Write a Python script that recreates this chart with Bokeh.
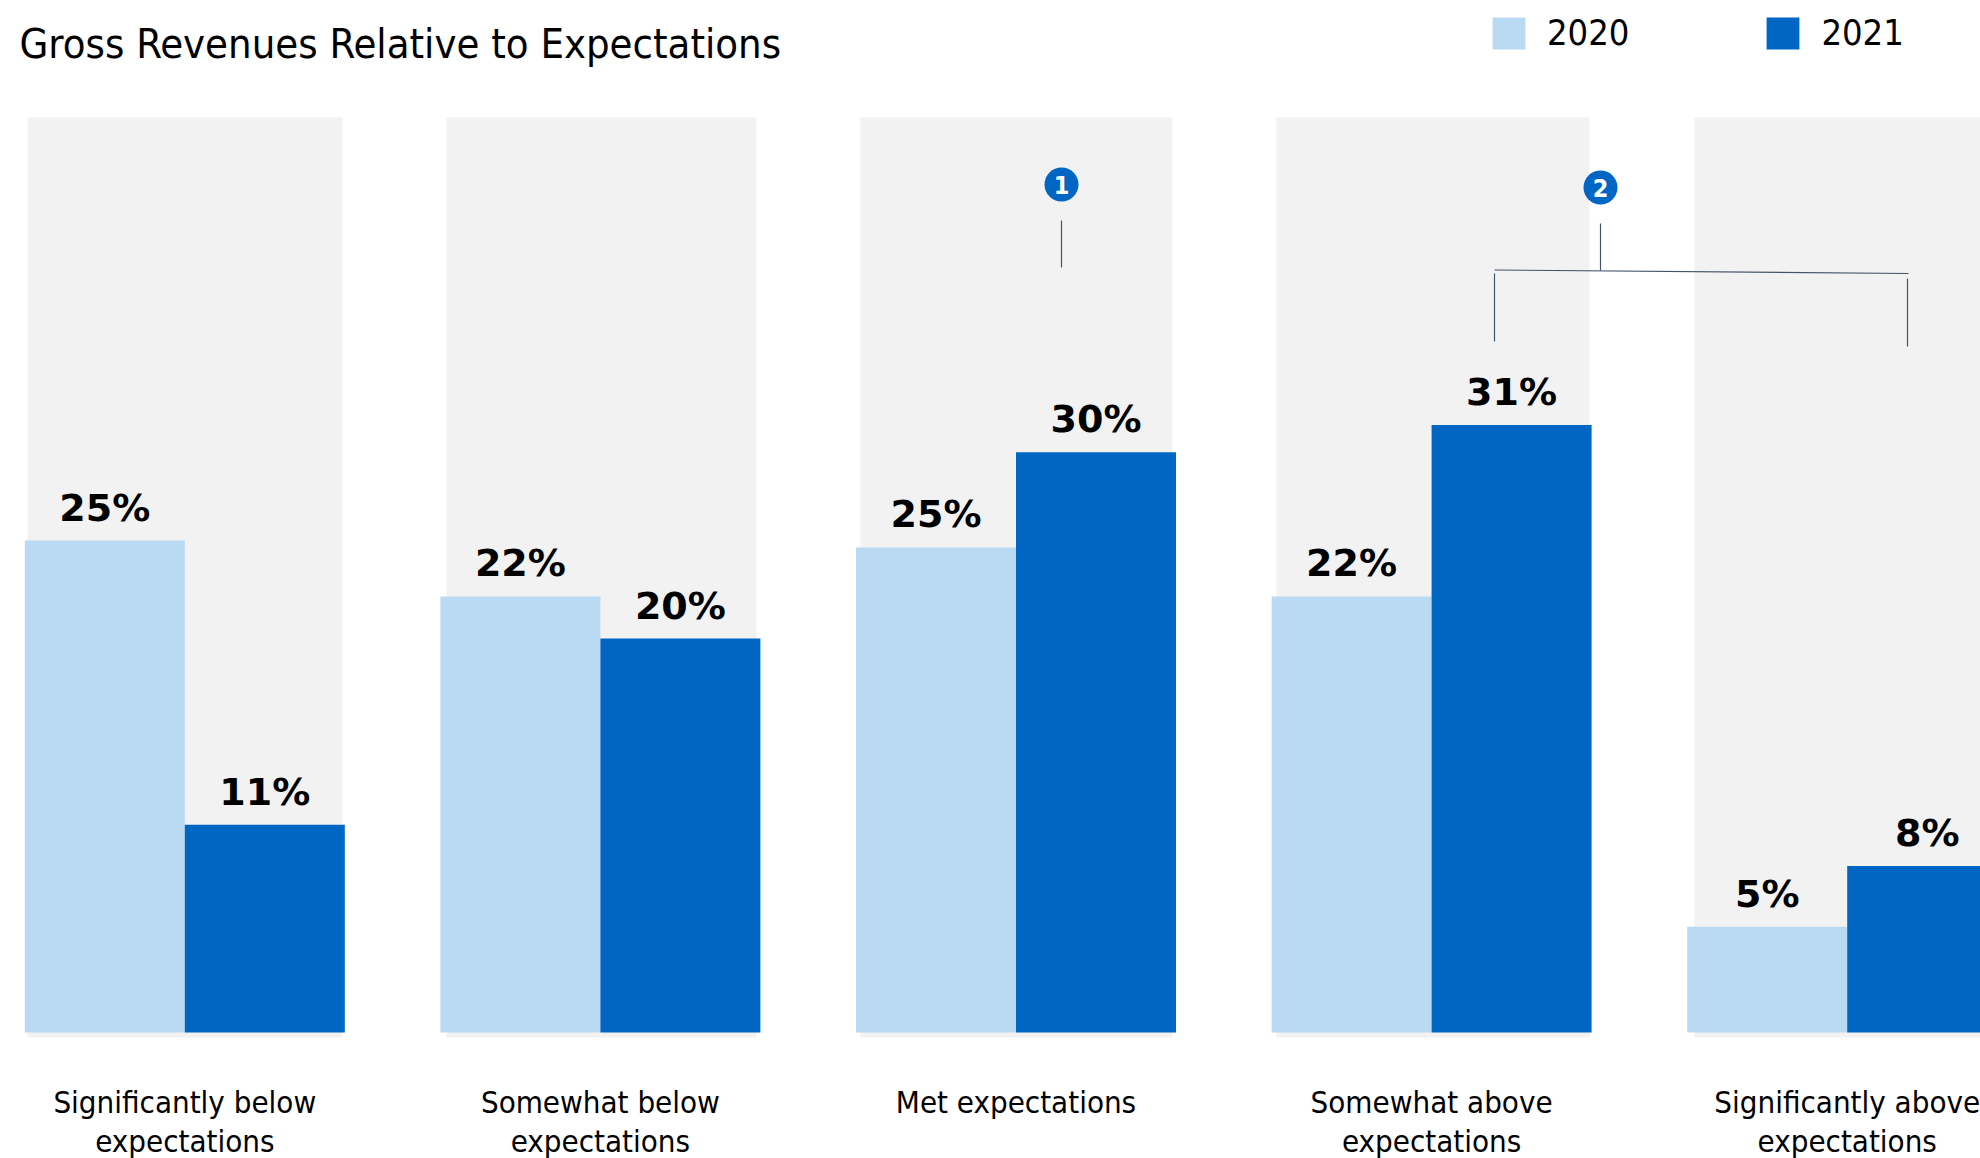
from bokeh.plotting import figure
from bokeh.embed import file_html
from bokeh.resources import INLINE
from bokeh.models import Range1d, Legend, LegendItem
from bokeh.core.properties import value
import numpy as np

category_line1 = ["Significantly below", "Somewhat below", "Met expectations", "Somewhat above", "Significantly above"]
category_line2 = ["expectations", "expectations", "", "expectations", "expectations"]
series_2020 = [25.1, 22.25, 24.75, 22.25, 5.4]
series_2021 = [10.6, 20.1, 29.6, 31.0, 8.5]
labels_2020 = ["25%", "22%", "25%", "22%", "5%"]
labels_2021 = ["11%", "20%", "30%", "31%", "8%"]

LIGHT, DARK, PANEL, RULE = "#BAD9F3", "#0066C4", "#F2F2F2", "#44546A"
COND = "DejaVu Sans Condensed"

# layout: reference-pixel geometry
W, H = 1980, 1158
PX_PER_GROUP, PX_PER_PCT = 415.6, 19.6
GROUP0_PX, BASE_PX = 184.3, 1032.0
PANEL_L = [27, 446, 860, 1276, 1694]
PANEL_R = [342, 756, 1172, 1589, 2007]


def X(px):
    return (np.asarray(px, dtype=float) - GROUP0_PX) / PX_PER_GROUP


def Y(py):
    return (BASE_PX - np.asarray(py, dtype=float)) / PX_PER_PCT


p = figure(width=W, height=H, output_backend="svg", toolbar_location=None,
           x_range=Range1d(float(X(0)), float(X(W))), y_range=Range1d(float(Y(H)), float(Y(0))),
           min_border=0, outline_line_color=None, x_axis_location=None, y_axis_location=None)
p.grid.visible = False

xs = np.arange(5, dtype=float)
p.quad(left=X(PANEL_L), right=X(PANEL_R), bottom=float(Y(1037)), top=float(Y(117)),
       fill_color=PANEL, line_color=None)

bw = 160 / PX_PER_GROUP
r20 = p.vbar(x=xs - bw / 2, top=series_2020, bottom=0, width=bw, fill_color=LIGHT, line_color=None)
r21 = p.vbar(x=xs + bw / 2, top=series_2021, bottom=0, width=bw, fill_color=DARK, line_color=None)

for off, vals, labs in ((-bw / 2, series_2020, labels_2020), (bw / 2, series_2021, labels_2021)):
    p.text(x=xs + off, y=vals, text=labs, text_align="center", text_baseline="alphabetic",
           y_offset=-33, text_font=value("DejaVu Sans"), text_font_style="bold",
           text_font_size="38px", text_color="#000000")

p.text(x=[float(X(19))], y=[float(Y(43))], text=["Gross Revenues Relative to Expectations"],
       text_baseline="alphabetic", text_font=value(COND), text_font_size="41.4px", text_color="#000000")
for line, py in ((category_line1, 1101), (category_line2, 1140)):
    p.text(x=xs, y=float(Y(py)), text=line, text_align="center", text_baseline="alphabetic",
           text_font=value(COND), text_font_size="31px", text_color="#000000")

# callouts
p.multi_line(xs=[X([1061, 1061]), X([1600, 1600]), X([1494, 1908]), X([1494, 1494]), X([1907, 1907])],
             ys=[Y([220, 267]), Y([223, 270]), Y([269.5, 273]), Y([273, 341]), Y([278, 346])],
             line_color=RULE, line_width=1.2)
p.scatter(x=X([1061, 1600]), y=Y([184, 187]), size=34, marker="circle", fill_color=DARK, line_color=None)
p.text(x=X([1061, 1600]), y=Y([184, 187]), text=["1", "2"], text_align="center", text_baseline="middle",
       text_font=value(COND), text_font_style="bold", text_font_size="25px", text_color="#FFFFFF")

legend = Legend(items=[LegendItem(label="2020", renderers=[r20]), LegendItem(label="2021", renderers=[r21])],
                orientation="horizontal", location=(1488, H - 53), padding=0, margin=0,
                glyph_width=41, glyph_height=40, label_standoff=18, spacing=133,
                background_fill_alpha=0, border_line_color=None,
                label_text_font=COND, label_text_font_size="36px", label_text_color="#000000")
p.add_layout(legend, "center")

open("out.html", "w").write(file_html(p, INLINE))
